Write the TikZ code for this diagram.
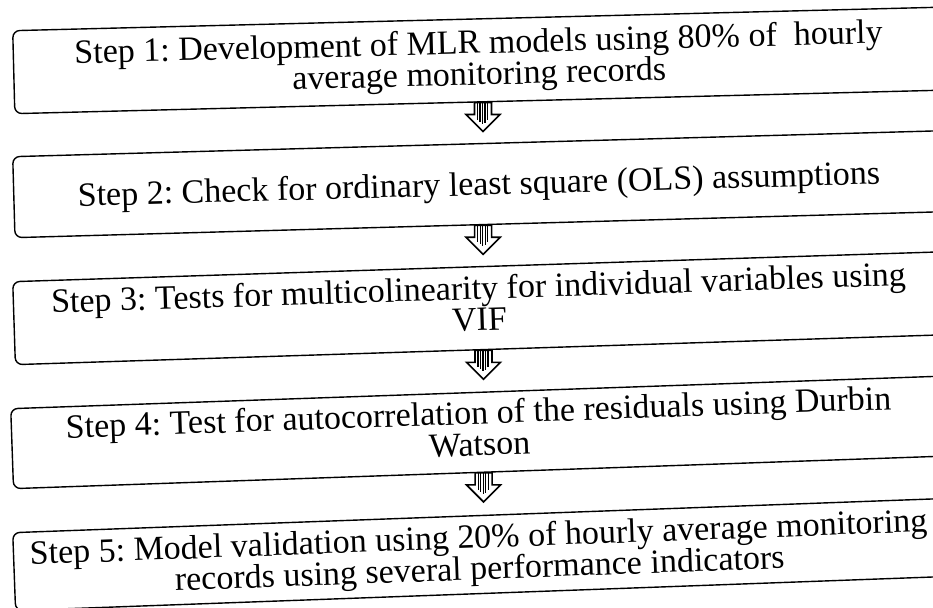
\documentclass[tikz,border=0pt]{standalone}
\usepackage{fontspec}
\setmainfont{Liberation Serif}
\usetikzlibrary{calc}
\frenchspacing
\newcommand\mystrut{\rule{0pt}{25pt}}
\tikzset{
  box/.style={draw, line width=1.4pt, rounded corners=7pt, minimum width=980pt,
    inner sep=0pt, anchor=north west, transform shape},
  txt/.style={align=center, inner sep=0pt, anchor=north,
    font=\fontsize{34}{31.5}\selectfont\frenchspacing, transform shape},
  blockarrow/.pic={
    \draw[line width=1.6pt, fill=white, line join=miter]
      (-8.5,0) -- (8.5,0) -- (8.5,-12) -- (17,-12) -- (0,-29) -- (-17,-12) -- (-8.5,-12) -- cycle;
    \foreach \sx/\sl in {-5.5/-17,-3/-19,-0.5/-21,2/-20,4.5/-17}
      \draw[line width=1.1pt] (\sx,0) -- (\sx,\sl);
  }
}
\begin{document}
\begin{tikzpicture}[x=1pt,y=1pt]
\useasboundingbox (0,0) rectangle (933,-607);
\clip (0,0) rectangle (933,-607);

\begin{scope}[shift={(12,-30)}, rotate=1.45]
  \node[box, minimum height=83pt] (b1) at (0,0) {};
  \node[txt] (t1) at (466,-10) {\mystrut Step 1: Development of MLR models using 80\% of~ hourly\\average monitoring records};
\end{scope}

\begin{scope}[shift={(12,-156)}, rotate=1.6]
  \node[box, minimum height=81pt] (b2) at (0,0) {};
  \node[txt] (t2) at (466,-27) {\mystrut Step 2: Check for ordinary least square (OLS) assumptions};
\end{scope}

\begin{scope}[shift={(12,-281)}, rotate=1.84]
  \node[box, minimum height=83pt] (b3) at (0,0) {};
  \node[txt] (t3) at (466,-8) {\mystrut Step 3: Tests for multicolinearity for individual variables using\\VIF};
\end{scope}

\begin{scope}[shift={(10,-408)}, rotate=2.0]
  \node[box, minimum height=80pt] (b4) at (0,0) {};
  \node[txt] (t4) at (468,-7) {\mystrut Step 4: Test for autocorrelation of the residuals using Durbin\\Watson};
\end{scope}

\begin{scope}[shift={(12,-532)}, rotate=2.1]
  \node[box, minimum height=78pt] (b5) at (0,0) {};
  \node[txt] (t5) at (466,-8) {\mystrut Step 5: Model validation using 20\% of hourly average monitoring\\records using several performance indicators};
\end{scope}

\pic (a1) at ($(b1.south west)!469pt!(b1.south east)$) {blockarrow};
\pic (a2) at ($(b2.south west)!469pt!(b2.south east)$) {blockarrow};
\pic (a3) at ($(b3.south west)!469pt!(b3.south east)$) {blockarrow};
\pic (a4) at ($(b4.south west)!471pt!(b4.south east)$) {blockarrow};
\end{tikzpicture}
\end{document}
